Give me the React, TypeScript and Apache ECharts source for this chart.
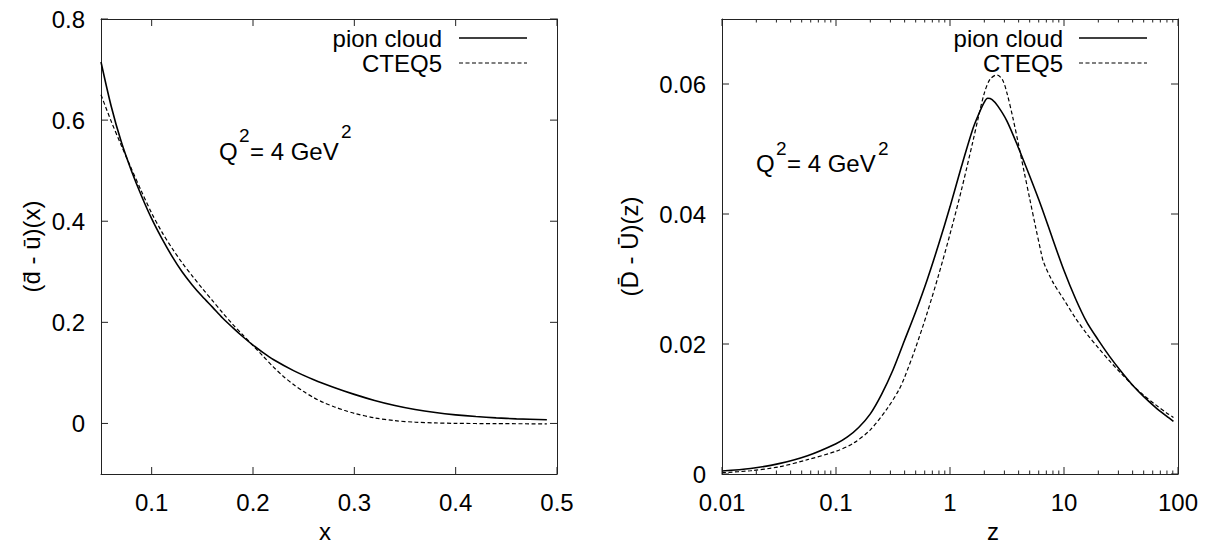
import React, { useEffect, useRef } from "react";
import * as echarts from "echarts";

const FONT = "'Liberation Sans', Arial, Helvetica, sans-serif";
const AXIS_COLOR = "#222";
const FS = 24;

// axis ranges
const leftXRange = [0.05, 0.5];
const leftYRange = [-0.1, 0.8];
const rightXRange = [0.01, 100];
const rightYRange = [0, 0.07];

// tick values / labels
const leftXTicks = [0.1, 0.2, 0.3, 0.4, 0.5];
const leftYTicks = [0, 0.2, 0.4, 0.6, 0.8];
const rightXTicks = [0.01, 0.1, 1, 10, 100];
const rightYTicks = [0, 0.02, 0.04, 0.06];
const minorMultipliers = [2, 3, 4, 5, 6, 7, 8, 9];
const minorDecades = [0.01, 0.1, 1, 10];

const seriesNames = ["pion cloud", "CTEQ5"];

// left panel: (dbar - ubar)(x)
const leftPion = [
  [0.05, 0.715], [0.06, 0.628], [0.07, 0.557], [0.08, 0.5], [0.09, 0.45],
  [0.1, 0.405], [0.11, 0.366], [0.12, 0.331], [0.13, 0.3], [0.14, 0.274],
  [0.15, 0.251], [0.16, 0.23], [0.17, 0.2085], [0.18, 0.1895], [0.19, 0.1715],
  [0.2, 0.155], [0.21, 0.14], [0.22, 0.1265], [0.24, 0.1045], [0.26, 0.0865],
  [0.28, 0.0712], [0.3, 0.0575], [0.32, 0.0455], [0.34, 0.0355], [0.36, 0.0275],
  [0.38, 0.0215], [0.4, 0.017], [0.42, 0.0136], [0.44, 0.011], [0.46, 0.0091],
  [0.49, 0.0072],
];
const leftCteq = [
  [0.05, 0.65], [0.06, 0.598], [0.07, 0.55], [0.08, 0.504], [0.09, 0.459],
  [0.1, 0.416], [0.11, 0.379], [0.12, 0.347], [0.13, 0.318], [0.14, 0.292],
  [0.15, 0.267], [0.16, 0.243], [0.17, 0.219], [0.18, 0.196], [0.19, 0.175],
  [0.2, 0.154], [0.21, 0.133], [0.22, 0.112], [0.23, 0.093], [0.24, 0.077],
  [0.25, 0.063], [0.26, 0.051], [0.27, 0.041], [0.28, 0.033], [0.29, 0.026],
  [0.3, 0.02], [0.32, 0.011], [0.34, 0.0055], [0.36, 0.0025], [0.38, 0.001],
  [0.4, 0.0002], [0.44, -0.0004], [0.49, -0.0008],
];

// right panel: (Dbar - Ubar)(z)
const rightPion = [
  [0.01, 0.00046], [0.0178, 0.00085], [0.0316, 0.0016], [0.0562, 0.0028],
  [0.1, 0.00465], [0.126, 0.0057], [0.158, 0.00715], [0.2, 0.00925],
  [0.251, 0.01225], [0.316, 0.016], [0.398, 0.0205], [0.501, 0.025],
  [0.631, 0.0299], [0.794, 0.0353], [1, 0.0411], [1.26, 0.0473], [1.58, 0.053],
  [1.78, 0.0553], [2.0, 0.0572], [2.14, 0.0578], [2.34, 0.0576], [2.63, 0.0566],
  [3.16, 0.0543], [3.98, 0.0502], [5.01, 0.0458], [6.31, 0.0412], [7.94, 0.0362],
  [10, 0.0313], [12.6, 0.027], [15.8, 0.0234], [20, 0.0206], [25.1, 0.0181],
  [31.6, 0.0158], [39.8, 0.0137], [50.1, 0.0119], [63.1, 0.0103], [79.4, 0.0089],
  [91.2, 0.0081],
];
const rightCteq = [
  [0.01, 0.0002], [0.0178, 0.0005], [0.0316, 0.0011], [0.0562, 0.0022],
  [0.1, 0.0035], [0.141, 0.0047], [0.2, 0.0068], [0.282, 0.0101], [0.355, 0.0129],
  [0.398, 0.0148], [0.501, 0.0195], [0.631, 0.0248], [0.794, 0.0306], [1, 0.0369],
  [1.26, 0.0437], [1.58, 0.051], [1.78, 0.055], [2.0, 0.0586], [2.24, 0.0607],
  [2.57, 0.0614], [2.88, 0.0607], [3.16, 0.0586], [3.55, 0.0549], [3.98, 0.0508],
  [4.47, 0.0465], [5.01, 0.0423], [5.62, 0.0381], [6.31, 0.034], [6.61, 0.0326],
  [7.94, 0.0296], [10, 0.0268], [12.6, 0.024], [15.8, 0.0216], [20, 0.0194],
  [25.1, 0.0174], [31.6, 0.0155], [39.8, 0.0137], [50.1, 0.0121], [63.1, 0.0107],
  [79.4, 0.0094], [91.2, 0.0087],
];

const minorTicks: number[] = [];
minorDecades.forEach((d) => minorMultipliers.forEach((m) => minorTicks.push(+(d * m).toPrecision(6))));

const labelStyle = { fontSize: FS, fontFamily: FONT, color: "#000" };
const noSplit = { show: false };

const logLabel = (v: number) => {
  const t = rightXTicks.find((t) => Math.abs(Math.log10(t) - Math.log10(v)) < 1e-6);
  return t !== undefined ? String(t) : "";
};

// frame axis: draws the border line (and labels when given)
const frameAxis = (base: any, label?: any) => ({
  ...base,
  axisLine: { show: true, onZero: false, lineStyle: { color: AXIS_COLOR, width: 1 } },
  axisTick: { show: false },
  axisLabel: label ? { ...labelStyle, margin: 16, ...label } : { show: false },
  splitLine: noSplit,
  minorTick: { show: false },
  minorSplitLine: { show: false },
});

const tickLine = (x1: number, y1: number, x2: number, y2: number) => ({
  type: "line",
  shape: { x1, y1, x2, y2 },
  style: { stroke: AXIS_COLOR, lineWidth: 1 },
});

// mirrored inward ticks on all four sides, placed through the axes' own scales
const tickRenderer = (
  xr: number[], yr: number[], xMajor: number[], yMajor: number[], xMinor: number[]
) => (params: any, api: any) => {
  const children: any[] = [];
  const MAJ = 7;
  const MIN = 3.5;
  const xt = (v: number, len: number) => {
    const b = api.coord([v, yr[0]]);
    const t = api.coord([v, yr[1]]);
    children.push(tickLine(b[0], b[1], b[0], b[1] - len));
    children.push(tickLine(t[0], t[1], t[0], t[1] + len));
  };
  xMajor.forEach((v) => xt(v, MAJ));
  xMinor.forEach((v) => xt(v, MIN));
  yMajor.forEach((v) => {
    const l = api.coord([xr[0], v]);
    const r = api.coord([xr[1], v]);
    children.push(tickLine(l[0], l[1], l[0] + MAJ, l[1]));
    children.push(tickLine(r[0], r[1], r[0] - MAJ, r[1]));
  });
  return { type: "group", children };
};

const solidStyle = { color: "#000", width: 1.6, type: "solid" as const };
const dashStyle = { color: "#000", width: 1.2, type: [4, 2.5] as any };

const txt = (text: string, x: number, y: number, size: number, align = "left") => ({
  type: "text",
  silent: true,
  style: {
    text,
    x,
    y,
    font: `${size}px ${FONT}`,
    fill: "#000",
    textAlign: align,
    textVerticalAlign: "middle",
    align,
    verticalAlign: "middle",
  },
});
const legLine = (x1: number, x2: number, y: number, dashed: boolean) => ({
  type: "line",
  silent: true,
  shape: { x1, y1: y, x2, y2: y },
  style: { stroke: "#000", lineWidth: dashed ? 1.2 : 1.6, lineDash: dashed ? [4, 2.5] : null },
});

export default function App() {
  const ref = useRef<HTMLDivElement>(null);
  useEffect(() => {
    if (!ref.current) return;
    const chart = echarts.init(ref.current, undefined, { renderer: "svg" });

    const lxB = { gridIndex: 0, type: "value", position: "bottom", min: leftXRange[0], max: leftXRange[1] };
    const lxT = { ...lxB, position: "top" };
    const lyL = { gridIndex: 0, type: "value", position: "left", min: leftYRange[0], max: leftYRange[1] };
    const lyR = { ...lyL, position: "right" };
    const rxB = { gridIndex: 1, type: "log", logBase: 10, position: "bottom", min: rightXRange[0], max: rightXRange[1] };
    const rxT = { ...rxB, position: "top" };
    const ryL = { gridIndex: 1, type: "value", position: "left", min: rightYRange[0], max: rightYRange[1] };
    const ryR = { ...ryL, position: "right" };

    const option: any = {
      animation: false,
      backgroundColor: "#fff",
      grid: [
        { left: 101, top: 19, width: 456, height: 455, containLabel: false, outerBoundsMode: "none" },
        { left: 722, top: 19, width: 456, height: 455, containLabel: false, outerBoundsMode: "none" },
      ],
      xAxis: [
        {
          ...frameAxis(lxB, { customValues: leftXTicks, formatter: (v: number) => String(v) }),
          name: "x", nameLocation: "middle", nameGap: 45,
          nameTextStyle: { ...labelStyle, padding: [0, 8, 0, 0] },
        },
        frameAxis(lxT),
        {
          ...frameAxis(rxB, { customValues: rightXTicks, formatter: logLabel }),
          name: "z", nameLocation: "middle", nameGap: 45,
          nameTextStyle: { ...labelStyle, padding: [0, 0, 0, 86] },
        },
        frameAxis(rxT),
      ],
      yAxis: [
        {
          ...frameAxis(lyL, { customValues: leftYTicks, formatter: (v: number) => String(v) }),
          name: "(d\u0304 - u\u0304)(x)", nameLocation: "middle", nameGap: 58, nameRotate: 90,
          nameTextStyle: labelStyle,
        },
        frameAxis(lyR),
        {
          ...frameAxis(ryL, { customValues: rightYTicks, formatter: (v: number) => String(v) }),
          name: "(D\u0304 - U\u0304)(z)", nameLocation: "middle", nameGap: 81, nameRotate: 90,
          nameTextStyle: labelStyle,
        },
        frameAxis(ryR),
      ],
      series: [
        {
          name: seriesNames[0], type: "line", xAxisIndex: 0, yAxisIndex: 0, data: leftPion,
          showSymbol: false, symbol: "none", smooth: 0.3, lineStyle: solidStyle, silent: true,
        },
        {
          name: seriesNames[1], type: "line", xAxisIndex: 0, yAxisIndex: 0, data: leftCteq,
          showSymbol: false, symbol: "none", smooth: 0.3, lineStyle: dashStyle, silent: true,
        },
        {
          name: seriesNames[0], type: "line", xAxisIndex: 2, yAxisIndex: 2, data: rightPion,
          showSymbol: false, symbol: "none", smooth: 0.3, lineStyle: solidStyle, silent: true,
        },
        {
          name: seriesNames[1], type: "line", xAxisIndex: 2, yAxisIndex: 2, data: rightCteq,
          showSymbol: false, symbol: "none", smooth: 0.3, lineStyle: dashStyle, silent: true,
        },
        {
          name: "ticks-left", type: "custom", xAxisIndex: 0, yAxisIndex: 0, silent: true,
          data: [[leftXRange[0], leftYRange[0]]], clip: false, z: 5,
          renderItem: tickRenderer(leftXRange, leftYRange, leftXTicks, leftYTicks, []),
        },
        {
          name: "ticks-right", type: "custom", xAxisIndex: 2, yAxisIndex: 2, silent: true,
          data: [[rightXRange[0], rightYRange[0]]], clip: false, z: 5,
          renderItem: tickRenderer(rightXRange, rightYRange, rightXTicks, rightYTicks, minorTicks),
        },
      ],
      graphic: [
        // legend left panel
        txt(seriesNames[0], 442, 38, FS, "right"),
        legLine(459, 527, 38, false),
        txt(seriesNames[1], 442, 63, FS, "right"),
        legLine(459, 527, 63, true),
        // legend right panel
        txt(seriesNames[0], 1063, 38, FS, "right"),
        legLine(1079, 1147, 38, false),
        txt(seriesNames[1], 1063, 63, FS, "right"),
        legLine(1079, 1147, 63, true),
        // Q^2 annotation left
        txt("Q", 219, 151.5, FS),
        txt("2", 239, 135, 19),
        txt("= 4 GeV", 250, 151.5, FS),
        txt("2", 341, 131, 19),
        // Q^2 annotation right
        txt("Q", 756, 163.5, FS),
        txt("2", 776, 148.3, 19),
        txt("= 4 GeV", 787, 163.5, FS),
        txt("2", 878, 148.3, 19),
      ],
    };
    chart.setOption(option);
    return () => chart.dispose();
  }, []);
  return (
    <div
      ref={ref}
      style={{ position: "absolute", left: 0, top: 0, width: 1207, height: 544, background: "#fff" }}
    />
  );
}
